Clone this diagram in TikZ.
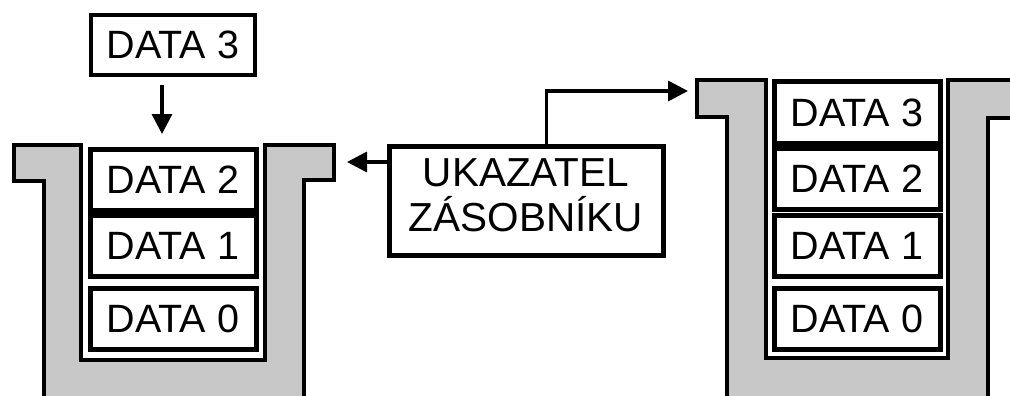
\documentclass[tikz,border=0pt]{standalone}
\usepackage{fontspec}
\setmainfont{Liberation Sans}
\usetikzlibrary{arrows.meta}
\definecolor{wallgray}{RGB}{200,200,200}
\tikzset{
  wall/.style={fill=wallgray, draw=black, line width=4.5pt, line join=miter},
  cell/.style={draw=black, line width=5pt, fill=white, minimum width=166pt,
    minimum height=61pt, inner sep=0pt, font=\fontsize{39.5}{45}\selectfont},
  ptrbox/.style={draw=black, line width=5pt, fill=white, minimum width=274pt,
    minimum height=109pt, inner sep=0pt, align=center, text depth=10pt,
    font=\fontsize{40.5}{45}\selectfont},
  arr/.style={line width=3.5pt, -{Triangle[length=20pt,width=20pt]}},
}
\begin{document}
\begin{tikzpicture}[x=1pt,y=-1pt]
\useasboundingbox (0,0) rectangle (1010,396);
\clip (0,0) rectangle (1010,396);

% left stack housing
\draw[wall] (14,145) -- (81,145) -- (81,360) -- (265,360) -- (265,145)
  -- (334,145) -- (334,180) -- (304,180) -- (304,420) -- (44,420)
  -- (44,181) -- (14,181) -- cycle;

% right stack housing
\draw[wall] (697,80) -- (766,80) -- (766,358) -- (948,358) -- (948,80)
  -- (1030,80) -- (1030,118) -- (988,118) -- (988,420) -- (727,420)
  -- (727,117) -- (697,117) -- cycle;

% left stack contents
\node[cell] (L2) at (173,179.5) {DATA 2};
\node[cell] (L1) at (173,245.5) {DATA 1};
\node[cell] (L0) at (173,319) {DATA 0};

% item being pushed
\node[cell, line width=4pt, minimum width=164pt, minimum height=60pt] (N3) at (173,45) {DATA 3};

% right stack contents
\node[cell] (R3) at (857,112.5) {DATA 3};
\node[cell] (R2) at (857,179) {DATA 2};
\node[cell] (R1) at (857,246) {DATA 1};
\node[cell] (R0) at (857,318.5) {DATA 0};

% stack pointer
\node[ptrbox] (sp) at (526,200.5) {UKAZATEL\\ZÁSOBNÍKU};

\coordinate (ltip) at (347,162);
\coordinate (rtip) at (688,91);

\draw[arr, shorten <=8pt, shorten >=12.5pt]
  ([xshift=-11pt]N3.south) -- ([xshift=-11pt]L2.north);
\draw[arr] (sp.west |- ltip) -- (ltip);
\draw[arr] ([xshift=20.5pt]sp.north) |- (rtip);
\end{tikzpicture}
\end{document}
